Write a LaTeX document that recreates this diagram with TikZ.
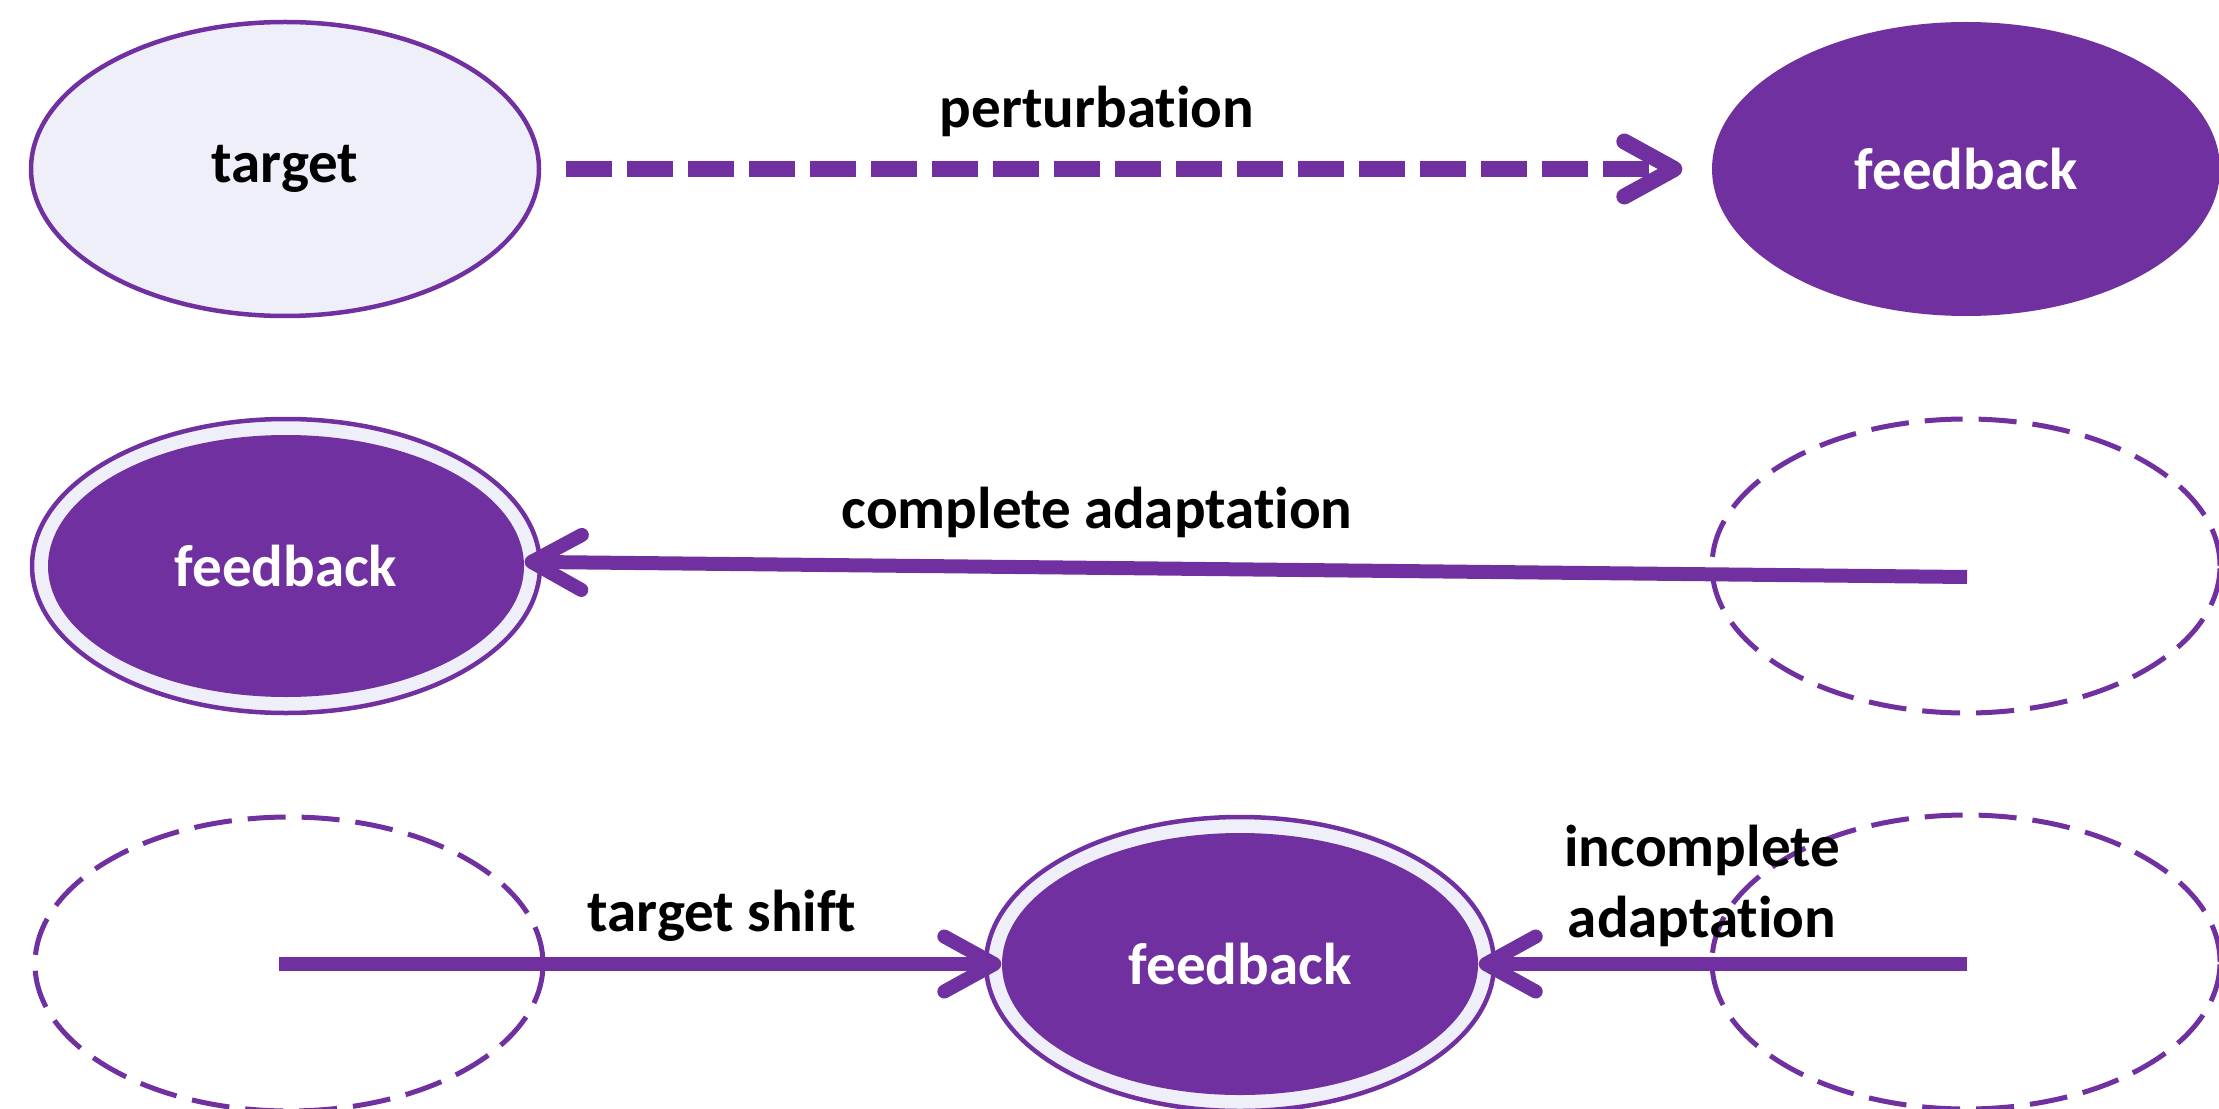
\documentclass[tikz,border=0pt]{standalone}
\usepackage{fontspec}
\setmainfont[RawFeature={-liga;-clig;-calt;-dlig}]{Carlito}
\usetikzlibrary{arrows.meta,shapes.geometric}
\definecolor{purp}{HTML}{7030A0}
\definecolor{lav}{HTML}{EFEFFA}
\begin{document}
\begin{tikzpicture}[x=0.1mm,y=-0.1mm,
  every node/.style={font=\fontsize{16.8}{20}\selectfont\bfseries},
  ell/.style={ellipse, minimum width=50.8mm, minimum height=29.4mm, inner sep=0pt},
  lightell/.style={ell, draw=purp, line width=0.45mm, fill=lav},
  fillell/.style={ell, fill=purp, text=white},
  ghost/.style={ell, draw=purp, line width=0.5mm, dash pattern=on 3.8mm off 1.6mm},
  core/.style={ellipse, fill=purp, text=white, minimum width=47.6mm, minimum height=26.2mm, inner sep=0pt},
  arr/.style={draw=purp, line width=1.4mm, -{Straight Barb[length=5mm,width=5.5mm,round]}},
  dasharr/.style={arr, line width=1.6mm, dash pattern=on 4.6mm off 1.5mm},
  lbl/.style={text=black}]
\useasboundingbox (0,0) rectangle (2219,1108);
% row 1
\node[lightell] (target) at (285,169) {target};
\node[fillell] (fbA) at (1966,169) {feedback};
% row 2
\node[ghost] (gB) at (1966,566) {};
\node[lightell] (fbB) at (286,566) {};
\node[core] (fbBin) at (286,566) {feedback};
% row 3
\node[ghost] (gCL) at (289,964) {};
\node[ghost] (gCR) at (1966,962) {};
\node[lightell] (fbC) at (1240,964) {};
\node[core] (fbCin) at (1240,964) {feedback};
% connector start points
\coordinate (sB) at (1967,577);
\coordinate (sCL) at (279,964);
\coordinate (sCR) at (1967,964);
% connectors
\draw[dasharr, shorten <=2.5mm, shorten >=2.9mm] (target) -- (fbA);
\draw[arr] (sB) -- (fbBin.1);
\draw[arr] (sCL) -- (fbCin);
\draw[arr] (sCR) -- (fbCin);
% labels
\node[lbl] (lp) at (1097,111) {perturbation};
\node[lbl] (lc) at (1097,512) {complete adaptation};
\node[lbl] (lt) at (722,916) {target shift};
\node[lbl, align=center] (li) at (1702,886) {incomplete\\adaptation};
\end{tikzpicture}
\end{document}
